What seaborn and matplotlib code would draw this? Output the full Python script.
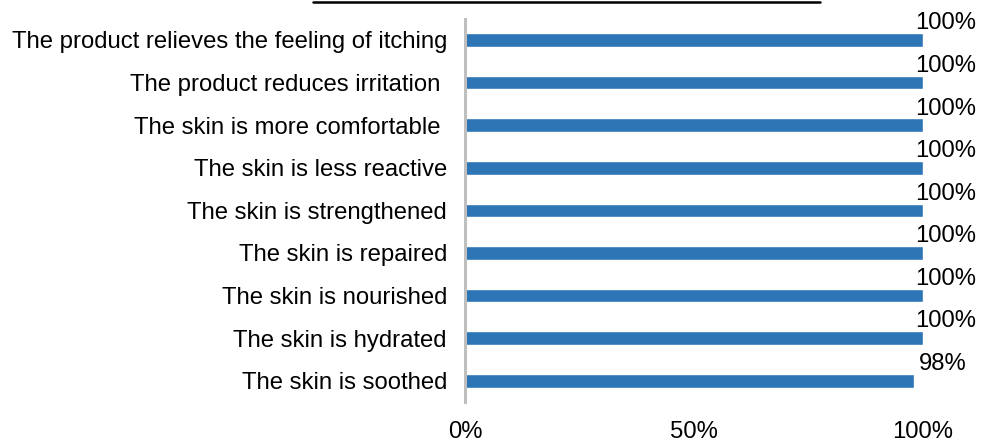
"""Share of panelists agreeing with each product claim."""

import pandas as pd
import seaborn as sns
import matplotlib.pyplot as plt
from matplotlib.lines import Line2D
from matplotlib.ticker import PercentFormatter


CLAIMS = [
    'The product relieves the feeling of itching',
    'The product reduces irritation ',
    'The skin is more comfortable ',
    'The skin is less reactive',
    'The skin is strengthened',
    'The skin is repaired',
    'The skin is nourished',
    'The skin is hydrated',
    'The skin is soothed',
]
AGREE = [1.00, 1.00, 1.00, 1.00, 1.00, 1.00, 1.00, 1.00, 0.98]
X_TICKS = [0, 0.5, 1.0]

BAR_COLOR = '#2E75B6'
AXIS_COLOR = '#BFBFBF'
FONT_SIZE = 17.2


def main():
    sns.set_style('white')
    plt.rcParams['font.family'] = ['Liberation Sans', 'DejaVu Sans']

    df = pd.DataFrame({'claim': CLAIMS, 'agree': AGREE})

    fig = plt.figure(figsize = (9.82, 4.42), dpi = 100)
    ax = fig.add_axes([0.4735, 0.0905, 0.4665, 0.8672])

    sns.barplot(
        data = df, x = 'agree', y = 'claim', orient = 'h',
        color = BAR_COLOR, saturation = 1, width = 0.32, ax = ax,
    )

    for patch, val in zip(ax.patches, df['agree']):
        y = patch.get_y() + patch.get_height() / 2
        ax.annotate(
            f'{val:.0%}', xy = (patch.get_width(), y),
            xytext = (38, 12), textcoords = 'offset points',
            ha = 'right', va = 'center', fontsize = FONT_SIZE, color = 'black',
            annotation_clip = False,
        )

    ax.set_xlim(0, 1.0)
    ax.set_xticks(X_TICKS)
    ax.xaxis.set_major_formatter(PercentFormatter(1.0, decimals = 0))
    ax.set_xlabel('')
    ax.set_ylabel('')
    ax.tick_params(axis = 'both', length = 0, labelsize = FONT_SIZE, colors = 'black')
    ax.tick_params(axis = 'y', pad = 13)
    ax.tick_params(axis = 'x', pad = 14)

    for side in ['top', 'right', 'bottom']:
        ax.spines[side].set_visible(False)
    ax.spines['left'].set_color(AXIS_COLOR)
    ax.spines['left'].set_linewidth(2.2)

    # underline of the clipped title at the very top
    fig.add_artist(Line2D([313 / 982, 820 / 982], [1 - 1.5 / 442, 1 - 1.5 / 442],
                          color = 'black', linewidth = 1.8))

    fig.savefig('out.png', dpi = 100)
    plt.close(fig)


if __name__ == '__main__':
    main()
